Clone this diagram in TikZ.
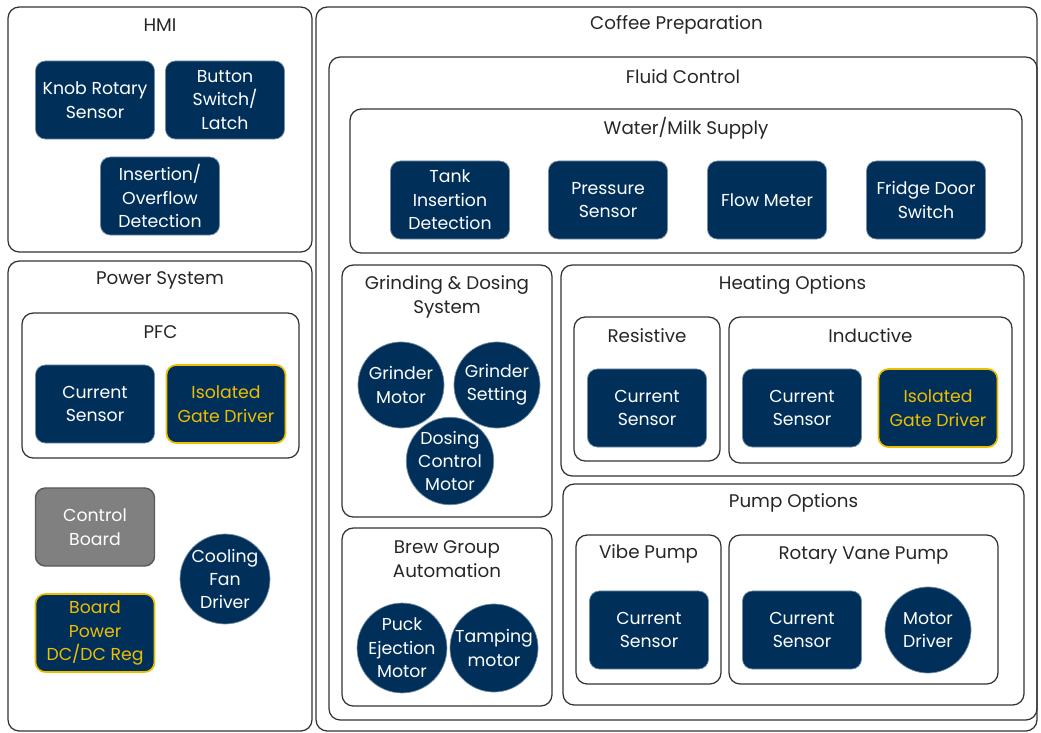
\documentclass[tikz,border=0pt]{standalone}
\usepackage{fontspec}
\setmainfont{Poppins}
\usetikzlibrary{positioning}
\definecolor{navy}{HTML}{00305A}
\definecolor{gold}{HTML}{F0BE00}
\definecolor{board}{HTML}{808080}
\definecolor{frame}{HTML}{333333}
\newcommand{\boxfont}{\fontsize{12.3}{16.7}\selectfont}
\newcommand{\titlefont}{\fontsize{13}{16.9}\selectfont}
\newcommand{\groupbox}[7]{\draw[grp] (#2,#3) rectangle (#4,#5); \node[grptitle] (#1) at ({(#2+#4)/2},#6+2) {#7}}

\tikzset{
  grp/.style={draw=frame, line width=0.9pt, rounded corners=8pt},
  grptitle/.style={text=black!85, align=center, inner sep=0pt, font=\titlefont},
  blk/.style={fill=navy, draw=navy!55!white, line width=0.5pt, rounded corners=7pt,
    text=white, align=center, minimum width=2.975cm, minimum height=1.95cm,
    inner sep=0pt, font=\boxfont},
  blkgold/.style={blk, draw=gold, line width=1.2pt, text=gold},
  blkgray/.style={blk, fill=board, draw=black!65, line width=1pt},
  disc/.style={circle, fill=navy, draw=navy!55!white, line width=0.5pt, text=white,
    align=center, minimum size=2.15cm, inner sep=0pt, font=\boxfont}
}

\begin{document}
\begin{tikzpicture}[x=0.025cm, y=-0.025cm]
                \useasboundingbox (0,0) rectangle (1041,732);

                % HMI
                \groupbox{hmi}{8}{7}{312}{252}{23}{HMI};
                \node[blk] (knob) at (95,100) {Knob Rotary\\Sensor};
                \node[blk] (button) at (225,100) {Button\\Switch/\\Latch};
                \node[blk] (overflow) at (160,196) {Insertion/\\Overflow\\Detection};

                % Power System
                \groupbox{power}{8}{261}{312}{731}{278}{Power System};
                \groupbox{pfc}{22}{313}{299}{458}{330}{PFC};
                \node[blk] (pfcsense) at (95,404) {Current\\Sensor};
                \node[blkgold] (pfcgate) at (226,404) {Isolated\\Gate Driver};
                \node[blkgray] (ctrl) at (95,527) {Control\\Board};
                \node[blkgold] (dcdc) at (95,633) {Board\\Power\\DC/DC Reg};
                \node[disc, minimum size=2.2cm] (fan) at (225,579) {Cooling\\Fan\\Driver};

                % Coffee Preparation
                \groupbox{coffee}{316}{7}{1037}{731}{23}{Coffee Preparation};
                \groupbox{fluid}{329}{57}{1037}{720}{75}{Fluid Control};

                \groupbox{supply}{350}{109}{1022}{253}{126}{Water/Milk Supply};
                \node[blk] (tank) at (450,200) {Tank\\Insertion\\Detection};
                \node[blk] (pressure) at (608,200) {Pressure\\Sensor};
                \node[blk] (flow) at (767,200) {Flow Meter};
                \node[blk] (fridge) at (926,200) {Fridge Door\\Switch};

                \groupbox{grind}{342}{265}{552}{517}{295}{Grinding \& Dosing\\System};
                \node[disc] (grmotor) at (401,385) {Grinder\\Motor};
                \node[disc] (grset) at (497,385) {Grinder\\Setting};
                \node[disc] (dosing) at (450,461) {Dosing\\Control\\Motor};

                \groupbox{brew}{342}{528}{552}{706}{557}{Brew Group\\Automation};
                \node[disc] (puck) at (402,648) {Puck\\Ejection\\Motor};
                \node[disc, minimum size=2.2cm] (tamp) at (494,648) {Tamping\\motor};

                \groupbox{heat}{561}{265}{1024}{476}{283}{Heating Options};
                \groupbox{resist}{574}{317}{720}{461}{334}{Resistive};
                \node[blk] (ressense) at (647,408) {Current\\Sensor};
                \groupbox{induct}{729}{317}{1012}{463}{334}{Inductive};
                \node[blk] (indsense) at (802,408) {Current\\Sensor};
                \node[blkgold] (indgate) at (938,408) {Isolated\\Gate Driver};

                \groupbox{pump}{563}{484}{1024}{705}{501}{Pump Options};
                \groupbox{vibe}{576}{535}{721}{684}{552}{Vibe Pump};
                \node[blk] (vibesense) at (649,630) {Current\\Sensor};
                \groupbox{vane}{729}{535}{998}{684}{553}{Rotary Vane Pump};
                \node[blk] (vanesense) at (802,630) {Current\\Sensor};
                \node[disc] (vanemotor) at (928,630) {Motor\\Driver};
            \end{tikzpicture}
\end{document}
